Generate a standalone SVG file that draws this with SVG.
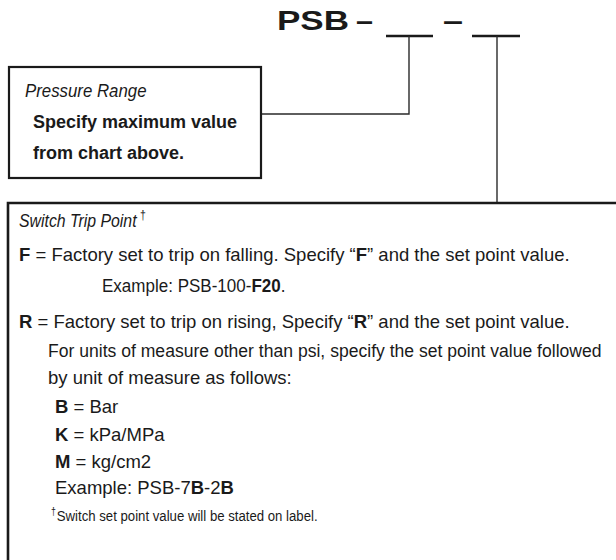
<svg xmlns="http://www.w3.org/2000/svg" width="616" height="560" viewBox="0 0 616 560">
<style>
text{font-family:"Liberation Sans",Arial,sans-serif;fill:#1a1a1a;font-size:18.5px}
.b{font-weight:bold}
.i{font-style:italic}
.t{font-size:27px;font-weight:bold}
.box{fill:none;stroke:#1a1a1a;stroke-width:2.2}
.con{fill:none;stroke:#2a2a2a;stroke-width:1.4}
.ul{stroke:#1a1a1a;stroke-width:2.4}
</style>
<rect width="616" height="560" fill="#fff"/>
<g id="title">
<text x="277" y="30" class="t" textLength="72" lengthAdjust="spacingAndGlyphs">PSB</text>
<text x="356" y="30" class="t" textLength="17" lengthAdjust="spacingAndGlyphs">–</text>
<line class="ul" x1="386" y1="36" x2="433" y2="36"/>
<text x="443" y="30" class="t" textLength="20" lengthAdjust="spacingAndGlyphs">–</text>
<line class="ul" x1="472" y1="36" x2="520" y2="36"/>
</g>
<g id="connectors">
<polyline class="con" points="261,114 409,114 409,36"/>
<line class="con" x1="497" y1="36" x2="497" y2="203"/>
</g>
<g id="pressure-range">
<rect class="box" x="9" y="67" width="252" height="111"/>
<text transform="translate(25,97) scale(0.935,1)" class="i" style="font-size:18px">Pressure Range</text>
<text x="33" y="128" class="b" style="font-size:18px">Specify maximum value</text>
<text x="33" y="159" class="b" style="font-size:18px">from chart above.</text>
</g>
<g id="switch-trip-point">
<polyline class="box" style="stroke-width:2.6" points="616,203 8,203 8,560"/>
<text transform="translate(19,227) scale(0.88,1)" class="i" style="font-size:18px">Switch Trip Point<tspan dx="4" dy="-8" style="font-size:12px;font-style:normal">†</tspan></text>
<text x="19" y="261"><tspan class="b">F</tspan> = Factory set to trip on falling. Specify “<tspan class="b">F</tspan>” and the set point value.</text>
<text transform="translate(102,292) scale(0.92,1)">Example: PSB-100-<tspan class="b">F20</tspan>.</text>
<text x="19" y="328"><tspan class="b">R</tspan> = Factory set to trip on rising, Specify “<tspan class="b">R</tspan>” and the set point value.</text>
<text transform="translate(48,357) scale(0.95,1)">For units of measure other than psi, specify the set point value followed</text>
<text x="48" y="384">by unit of measure as follows:</text>
<text x="55" y="413"><tspan class="b">B</tspan> = Bar</text>
<text x="55" y="441"><tspan class="b">K</tspan> = kPa/MPa</text>
<text x="55" y="468"><tspan class="b">M</tspan> = kg/cm2</text>
<text x="55" y="494">Example: PSB-7<tspan class="b">B</tspan>-2<tspan class="b">B</tspan></text>
<text transform="translate(51,521) scale(0.88,1)" style="font-size:15px"><tspan dy="-6" style="font-size:10px">†</tspan><tspan dx="1" dy="6">Switch set point value will be stated on label.</tspan></text>
</g>
</svg>
